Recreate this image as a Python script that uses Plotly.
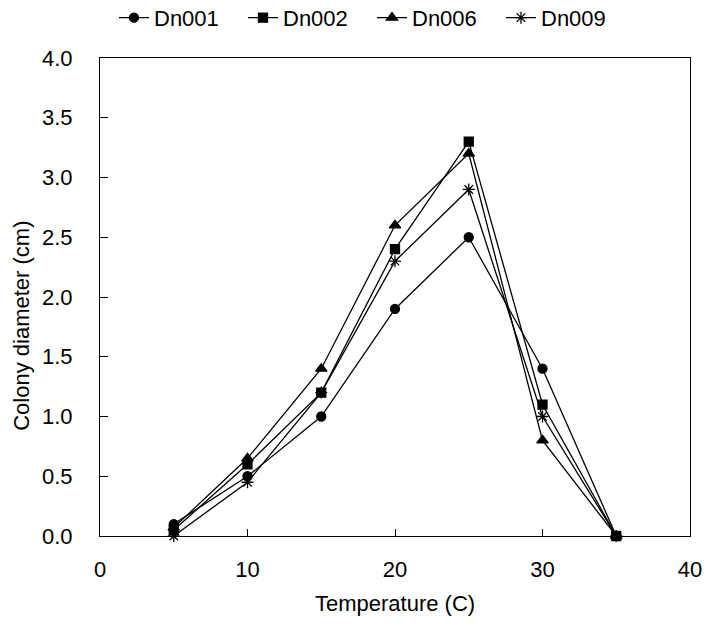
import plotly.graph_objects as go

temperature = [5, 10, 15, 20, 25, 30, 35]
dn001 = [0.1, 0.5, 1.0, 1.9, 2.5, 1.4, 0.0]
dn002 = [0.05, 0.6, 1.2, 2.4, 3.3, 1.1, 0.0]
dn006 = [0.07, 0.65, 1.4, 2.6, 3.2, 0.8, 0.0]
dn009 = [0.0, 0.45, 1.2, 2.3, 2.9, 1.0, 0.0]
x_ticks = [0, 10, 20, 30, 40]
y_ticks = [0, 0.5, 1, 1.5, 2, 2.5, 3, 3.5, 4]

series = [
    ("Dn001", dn001, "circle", 9),
    ("Dn002", dn002, "square", 9),
    ("Dn006", dn006, "triangle-up", 10),
    ("Dn009", dn009, "asterisk", 10),
]

fig = go.Figure()
for name, vals, sym, sz in series:
    fig.add_trace(go.Scatter(
        x=temperature, y=vals, name=name, mode="lines+markers",
        line=dict(color="black", width=1.3),
        marker=dict(symbol=sym, size=sz, color="black",
                    line=dict(color="black", width=1.3)),
        cliponaxis=False,
    ))

font = dict(family="Liberation Sans, Arial, sans-serif", size=22, color="black")
L, R, T, B = 100, 16, 58, 92
fig.update_layout(
    width=706, height=628,
    margin=dict(l=L, r=R, t=T, b=B, autoexpand=False),
    paper_bgcolor="white", plot_bgcolor="white",
    font=font,
    showlegend=True,
    legend=dict(orientation="h", x=0.461, xanchor="center", y=1.084, yanchor="middle",
                font=font, itemwidth=30, tracegroupgap=0, entrywidth=84,
                bgcolor="rgba(0,0,0,0)"),
    xaxis=dict(range=[0, 40], tickvals=x_ticks, ticks="inside",
               ticklen=7, tickcolor="black", showline=True, linecolor="black",
               linewidth=1, mirror=True, showgrid=False, zeroline=False,
               ticklabelstandoff=14, automargin=False),
    yaxis=dict(range=[0, 4], tickvals=y_ticks,
               tickformat=".1f", ticks="inside", ticklen=8, tickcolor="black",
               showline=True, linecolor="black", linewidth=1, mirror=True,
               showgrid=False, zeroline=False, ticklabelstandoff=22,
               automargin=False),
    annotations=[
        dict(text="Temperature (C)", xref="paper", yref="paper", x=0.5, y=-0.142,
             xanchor="center", yanchor="middle", showarrow=False, font=font),
        dict(text="Colony diameter (cm)", xref="paper", yref="paper", x=-0.132, y=0.44,
             xanchor="center", yanchor="middle", showarrow=False, textangle=-90,
             font=font),
    ],
)
fig.write_html("out.html", config={"displayModeBar": False},
               post_script="document.body.style.margin='0';")
